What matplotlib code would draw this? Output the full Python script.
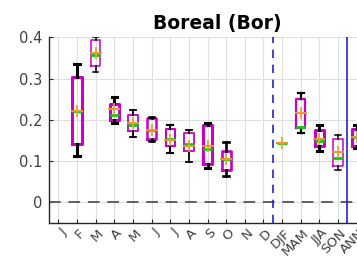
import matplotlib
matplotlib.use('Agg')
import matplotlib.pyplot as plt
import matplotlib.transforms as mtransforms
import numpy as np

nan = np.nan

# categories along the x axis (months, then seasons, then annual)
categories = ['J', 'F', 'M', 'A', 'M', 'J', 'J', 'A', 'S', 'O', 'N', 'D',
              'DJF', 'MAM', 'JJA', 'SON', 'ANN']

# box statistics (nan = no data)
means = [nan, 0.222, 0.361, 0.225, 0.191, 0.174, 0.150, 0.136, 0.136, 0.105,
         nan, nan, 0.144, 0.217, 0.152, 0.122, 0.158]
medians = [nan, 0.220, 0.357, 0.212, 0.188, 0.175, 0.153, 0.140, 0.128, 0.105,
           nan, nan, 0.144, 0.182, 0.149, 0.106, 0.158]
q3 = [nan, 0.304, 0.393, 0.239, 0.211, 0.205, 0.178, 0.167, 0.188, 0.125,
      nan, nan, 0.144, 0.251, 0.176, 0.153, 0.178]
q1 = [nan, 0.142, 0.330, 0.200, 0.172, 0.152, 0.136, 0.125, 0.093, 0.079,
      nan, nan, 0.144, 0.180, 0.137, 0.087, 0.137]
whishi = [nan, 0.336, 0.400, 0.256, 0.223, 0.207, 0.187, 0.176, 0.191, 0.146,
          nan, nan, 0.144, 0.265, 0.186, 0.164, 0.188]
whislo = [nan, 0.111, 0.316, 0.192, 0.158, 0.149, 0.118, 0.097, 0.083, 0.063,
          nan, nan, 0.144, 0.168, 0.125, 0.079, 0.132]

# line width of each box outline
box_lw = [1, 2.2, 1.1, 2.2, 1.3, 1.8, 1.5, 1.3, 2.2, 1.9,
          1, 1, 1.2, 1.6, 2.2, 1.1, 2.2]

MAGENTA = '#c800c8'
DARK = '#262626'


def main():
    fig = plt.figure(figsize=(3.57, 2.6), dpi=100)
    ax = fig.add_axes([0.1375, 0.1435, 0.94, 0.713])

    x = np.arange(1, len(categories) + 1)

    for i in range(len(categories)):
        if np.isnan(means[i]):
            continue
        lw = box_lw[i]
        stats = [dict(med=medians[i], q1=q1[i], q3=q3[i], whislo=whislo[i],
                      whishi=whishi[i], mean=means[i], fliers=[])]
        box_col = 'k' if q1[i] == q3[i] else MAGENTA
        ax.bxp(stats, positions=[x[i]], widths=0.5, capwidths=0.3,
               showmeans=True, meanline=True, showfliers=False,
               manage_ticks=False,
               boxprops=dict(color=box_col, linewidth=lw),
               whiskerprops=dict(color='k', linewidth=lw),
               capprops=dict(color='k', linewidth=lw),
               medianprops=dict(color='#10c810', linewidth=2.0),
               meanprops=dict(color='#ff2020', linewidth=1.2, linestyle='-'))
        ax.plot(x[i], means[i], '+', color='#e8a030', ms=8, mew=1.3, zorder=4)

    # reference lines
    ax.axhline(0, color='#606060', lw=1.4, dashes=(6, 4), zorder=1)
    ax.axvline(12.5, color='#2020d0', lw=1.2, dashes=(5, 4))
    ax.axvline(16.5, color='#2020d0', lw=1.2)

    ax.set_xlim(0.5, 18.5)
    ax.set_ylim(-0.05, 0.4)
    ax.set_yticks([0, 0.1, 0.2, 0.3, 0.4])
    ax.set_yticklabels(['0', '0.1', '0.2', '0.3', '0.4'])
    ax.set_xticks(x)
    ax.set_xticklabels(categories)

    ax.grid(True, color='#dedede', lw=0.8)
    ax.set_axisbelow(True)
    ax.spines['top'].set_visible(False)
    ax.spines['right'].set_visible(False)
    for s in ['left', 'bottom']:
        ax.spines[s].set_color(DARK)
        ax.spines[s].set_linewidth(1.0)

    ax.tick_params(direction='in', length=3, width=0.8, colors=DARK,
                   labelsize=10.5, labelcolor='#404040')
    ax.tick_params(axis='x', pad=6, labelsize=9.5)
    ax.tick_params(axis='y', pad=5)

    offset = mtransforms.ScaledTranslation(6 / 100, 0, fig.dpi_scale_trans)
    for lab in ax.get_xticklabels():
        lab.set_rotation(45)
        lab.set_ha('right')
        lab.set_va('center')
        lab.set_rotation_mode('anchor')
        lab.set_transform(lab.get_transform() + offset)

    ax.set_title('Boreal (Bor)', fontsize=13.5, fontweight='bold', pad=6)

    fig.savefig('out.png', dpi=100)


if __name__ == "__main__":
    main()
